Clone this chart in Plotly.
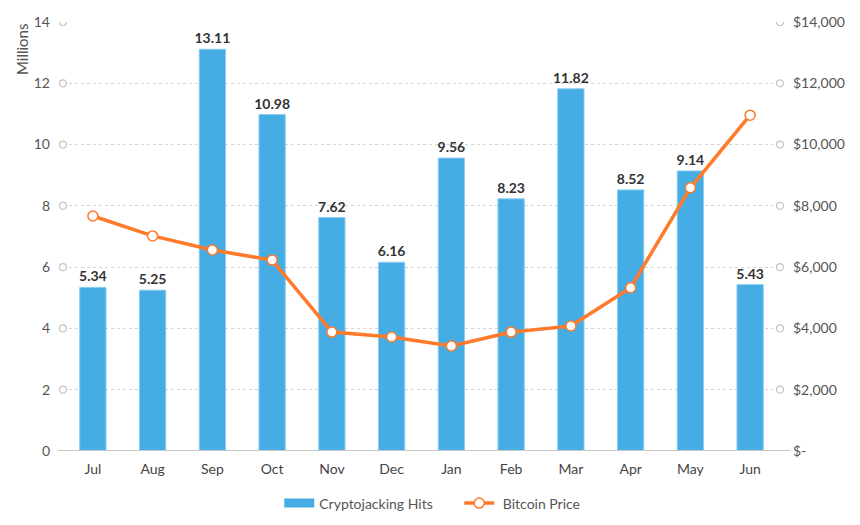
import plotly.graph_objects as go

months = ["Jul", "Aug", "Sep", "Oct", "Nov", "Dec", "Jan", "Feb", "Mar", "Apr", "May", "Jun"]
hits = [5.34, 5.25, 13.11, 10.98, 7.62, 6.16, 9.56, 8.23, 11.82, 8.52, 9.14, 5.43]
btc = [7670, 7020, 6560, 6230, 3880, 3720, 3430, 3880, 4080, 5330, 8590, 10960]
left_ticks = [0, 2, 4, 6, 8, 10, 12, 14]
right_ticks = [0, 2000, 4000, 6000, 8000, 10000, 12000, 14000]
right_labels = ["$-", "$2,000", "$4,000", "$6,000", "$8,000", "$10,000", "$12,000", "$14,000"]

BLUE = "#45ADE4"
ORANGE = "#FF7A2A"

fig = go.Figure()
fig.add_trace(go.Bar(
    x=months, y=hits, name="Cryptojacking Hits", showlegend=False,
    marker=dict(color=BLUE, line=dict(color="#8CCDF0", width=1)),
    width=0.44,
    text=[f"{v:.2f}" for v in hits], textposition="outside", constraintext="none",
    textfont=dict(family="Lato", size=14, color="#333333", weight="bold"),
    cliponaxis=False,
))
# legend proxy for bars (wide rectangle symbol)
fig.add_trace(go.Scatter(
    x=[None], y=[None], name="Cryptojacking Hits      ", mode="lines",
    line=dict(color=BLUE, width=9),
))
fig.add_trace(go.Scatter(
    x=months, y=btc, name=" Bitcoin Price", yaxis="y2", mode="lines+markers",
    line=dict(color=ORANGE, width=3.5),
    marker=dict(size=10, color="white", line=dict(color=ORANGE, width=1.5)),
))

shapes = []
for t in left_ticks[1:]:
    for xa in (0, 1):
        shapes.append(dict(type="circle", xref="paper", yref="y", xsizemode="pixel", ysizemode="pixel",
                           xanchor=xa, yanchor=t, x0=-3.5, x1=3.5, y0=-3.5, y1=3.5,
                           line=dict(color="#C4C4C4", width=1.2), fillcolor="white", layer="above"))
shapes.append(dict(type="line", xref="paper", yref="y", x0=-0.007, x1=1.014, y0=0, y1=0,
                   line=dict(color="#C8C8C8", width=2), layer="above"))

fig.update_layout(
    width=852, height=517,
    margin=dict(l=55, r=80, t=14, b=74, autoexpand=False),
    plot_bgcolor="white", paper_bgcolor="white",
    font=dict(family="Lato", size=12, color="#555555"),
    showlegend=True,
    legend=dict(orientation="h", x=0.515, xanchor="center", y=-0.085, yanchor="top",
                font=dict(size=14, color="#555555"), itemwidth=30),
    xaxis=dict(range=[-0.5, 11.5], showgrid=False, showline=False, ticks="", automargin=False,
               ticklabelstandoff=8, tickfont=dict(size=14, color="#444444")),
    yaxis=dict(range=[0, 14], tickvals=left_ticks, showgrid=True, gridcolor="#D5D5D5", griddash="3px,3px",
               gridwidth=1, zeroline=False, ticks="", ticklabelstandoff=12, automargin=False,
               tickfont=dict(size=14, color="#555555")),
    yaxis2=dict(range=[0, 14000], overlaying="y", side="right", tickvals=right_ticks, ticktext=right_labels,
                showgrid=False, zeroline=False, ticks="", ticklabelstandoff=12, automargin=False,
                tickfont=dict(size=14, color="#555555")),
    shapes=shapes,
    annotations=[dict(text="Millions", xref="paper", yref="paper", x=-0.057, y=0.935,
                      xanchor="center", yanchor="middle", textangle=-90, showarrow=False,
                      font=dict(size=15, color="#555555"))],
)

fig.write_html("out.html")
